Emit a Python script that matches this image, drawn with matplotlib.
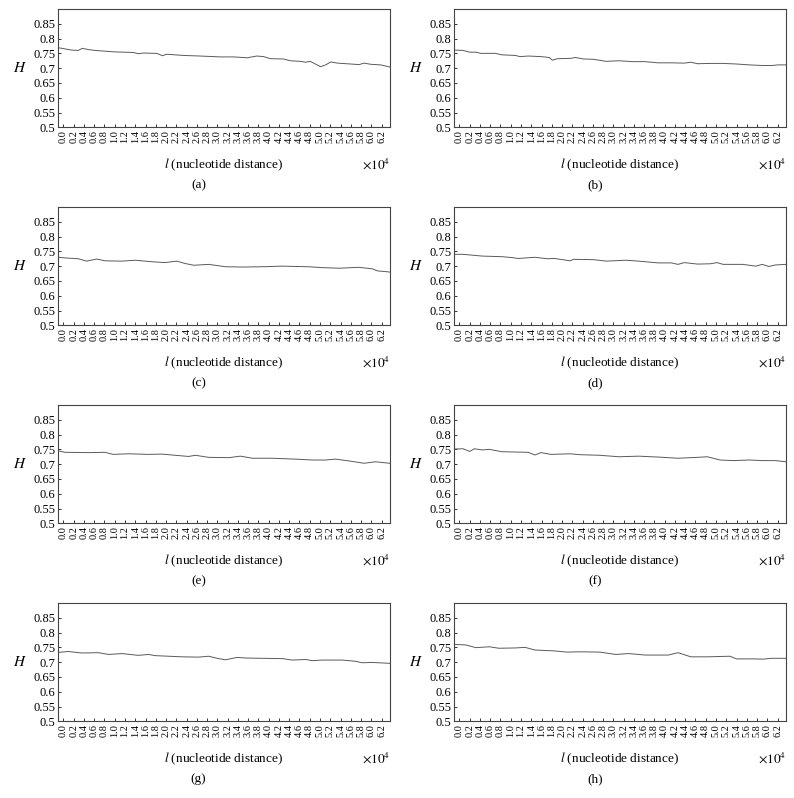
import numpy as np
import matplotlib.pyplot as plt

plt.rcParams['font.family'] = 'Liberation Serif'
plt.rcParams['mathtext.fontset'] = 'stix'

# panel data: nucleotide distance (x10^4) and H
xa = [-0.1, 0.0, 0.16, 0.29, 0.37, 0.48, 0.61, 0.84, 1.0, 1.36, 1.46, 1.56, 1.82, 1.93,
      2.01, 2.34, 2.66, 3.06, 3.32, 3.58, 3.77, 3.90, 4.03, 4.29, 4.42, 4.62, 4.72, 4.81,
      5.01, 5.11, 5.21, 5.34, 5.60, 5.76, 5.86, 5.99, 6.18, 6.36]
ha = [0.769, 0.766, 0.761, 0.760, 0.767, 0.763, 0.760, 0.757, 0.755, 0.753, 0.749, 0.751,
      0.750, 0.742, 0.747, 0.743, 0.741, 0.738, 0.738, 0.735, 0.741, 0.739, 0.732, 0.731,
      0.725, 0.723, 0.720, 0.723, 0.705, 0.711, 0.721, 0.717, 0.714, 0.712, 0.717, 0.713,
      0.711, 0.704]

xb = [-0.1, 0.07, 0.2, 0.32, 0.42, 0.7, 0.83, 1.09, 1.18, 1.34, 1.59, 1.75, 1.81, 1.91,
      2.16, 2.26, 2.42, 2.61, 2.86, 3.11, 3.37, 3.62, 3.87, 4.13, 4.38, 4.51, 4.64, 4.89,
      5.14, 5.40, 5.65, 5.90, 6.1, 6.2, 6.36]
hb = [0.761, 0.760, 0.754, 0.754, 0.750, 0.750, 0.745, 0.743, 0.739, 0.741, 0.739, 0.736,
      0.727, 0.732, 0.733, 0.736, 0.731, 0.730, 0.723, 0.725, 0.722, 0.722, 0.718, 0.718,
      0.717, 0.720, 0.715, 0.716, 0.716, 0.714, 0.711, 0.709, 0.709, 0.711, 0.711]

xc = [-0.1, 0.1, 0.29, 0.45, 0.65, 0.81, 1.14, 1.40, 1.72, 1.98, 2.21, 2.37, 2.54, 2.83,
      3.16, 3.48, 3.87, 4.26, 4.78, 5.04, 5.37, 5.76, 6.02, 6.12, 6.31, 6.36]
hc = [0.730, 0.727, 0.725, 0.717, 0.724, 0.718, 0.717, 0.720, 0.715, 0.712, 0.717, 0.709,
      0.703, 0.706, 0.698, 0.697, 0.698, 0.700, 0.698, 0.695, 0.693, 0.696, 0.691, 0.684,
      0.681, 0.680]

xd = [-0.1, 0.07, 0.45, 0.83, 1.02, 1.15, 1.47, 1.72, 1.85, 2.16, 2.22, 2.61, 2.86, 3.24,
      3.49, 3.87, 4.13, 4.26, 4.38, 4.64, 4.89, 5.02, 5.14, 5.52, 5.78, 5.90, 6.03, 6.16,
      6.36]
hd = [0.740, 0.740, 0.734, 0.732, 0.729, 0.726, 0.730, 0.725, 0.726, 0.718, 0.723, 0.722,
      0.717, 0.720, 0.717, 0.711, 0.711, 0.706, 0.712, 0.707, 0.708, 0.712, 0.706, 0.706,
      0.700, 0.706, 0.699, 0.704, 0.706]

xe = [-0.1, 0.03, 0.49, 0.81, 0.97, 1.27, 1.66, 1.92, 2.11, 2.44, 2.57, 2.83, 3.22, 3.45,
      3.68, 4.07, 4.52, 4.85, 5.11, 5.30, 5.56, 5.86, 6.08, 6.36]
he = [0.745, 0.740, 0.739, 0.740, 0.733, 0.735, 0.733, 0.734, 0.731, 0.726, 0.730, 0.723,
      0.722, 0.727, 0.720, 0.720, 0.717, 0.714, 0.714, 0.717, 0.711, 0.703, 0.708, 0.703]

xf = [-0.1, 0.07, 0.2, 0.29, 0.45, 0.58, 0.83, 1.09, 1.34, 1.47, 1.59, 1.78, 2.16, 2.35,
      2.73, 3.11, 3.49, 3.87, 4.26, 4.64, 4.83, 5.08, 5.33, 5.65, 5.90, 6.16, 6.36]
hf = [0.751, 0.752, 0.743, 0.752, 0.748, 0.750, 0.742, 0.741, 0.740, 0.731, 0.739, 0.733,
      0.735, 0.732, 0.730, 0.725, 0.727, 0.724, 0.720, 0.723, 0.725, 0.714, 0.712, 0.714,
      0.712, 0.712, 0.708]

xg = [-0.1, 0.09, 0.36, 0.68, 0.88, 1.14, 1.46, 1.66, 1.79, 2.05, 2.31, 2.63, 2.83, 3.02,
      3.16, 3.38, 3.55, 3.87, 4.26, 4.46, 4.72, 4.85, 5.04, 5.43, 5.69, 5.82, 6.02, 6.36]
hg = [0.733, 0.736, 0.731, 0.732, 0.726, 0.729, 0.723, 0.726, 0.722, 0.720, 0.718, 0.717,
      0.720, 0.712, 0.708, 0.716, 0.714, 0.713, 0.712, 0.707, 0.709, 0.705, 0.707, 0.707,
      0.703, 0.698, 0.699, 0.696]

xh = [-0.1, 0.13, 0.32, 0.58, 0.77, 1.09, 1.28, 1.47, 1.85, 2.10, 2.35, 2.73, 3.05, 3.30,
      3.62, 4.07, 4.26, 4.51, 4.83, 5.27, 5.40, 5.78, 5.90, 6.09, 6.36]
hh = [0.760, 0.758, 0.749, 0.752, 0.747, 0.748, 0.750, 0.741, 0.738, 0.734, 0.735, 0.734,
      0.726, 0.729, 0.724, 0.724, 0.732, 0.718, 0.718, 0.720, 0.711, 0.711, 0.710, 0.713,
      0.713]

panels = [(xa, ha), (xb, hb), (xc, hc), (xd, hd), (xe, he), (xf, hf), (xg, hg), (xh, hh)]
letters = ['a', 'b', 'c', 'd', 'e', 'f', 'g', 'h']

xticks = np.arange(0, 6.21, 0.2)
yticks = [0.5, 0.55, 0.6, 0.65, 0.7, 0.75, 0.8, 0.85]
ytick_labels = ['0.5', '0.55', '0.6', '0.65', '0.7', '0.75', '0.8', '0.85']

W, H = 794, 798
fig = plt.figure(figsize=(W / 100, H / 100), dpi=100)

lefts = [58.3, 454.3]
width = 331.5
height = 118.3

for i, (x, h) in enumerate(panels):
    row, col = divmod(i, 2)
    top = 9 + 198 * row
    ax = fig.add_axes([lefts[col] / W, 1 - (top + height) / H, width / W, height / H])
    ax.plot(x, h, color='#5a5a5a', lw=0.7)
    ax.set_xlim(-0.1, 6.36)
    ax.set_ylim(0.5, 0.9)
    ax.set_xticks(xticks)
    ax.set_xticklabels(['%.1f' % t for t in xticks], rotation=90, fontsize=7.4)
    ax.set_yticks(yticks)
    ax.set_yticklabels(ytick_labels, fontsize=9)
    ax.tick_params(direction='in', length=2.5, width=0.7, pad=2, color='#333333')
    for s in ax.spines.values():
        s.set_linewidth(0.8)
        s.set_color('#444444')
    ax.set_ylabel('$H$', rotation=0, fontsize=11, labelpad=10, va='center')
    ax.text(0.5, -0.35, r'$l$ (nucleotide distance)', transform=ax.transAxes,
            ha='center', va='baseline', fontsize=9.5)
    ax.text(1.0, -0.35, r'$\times10^4$', transform=ax.transAxes,
            ha='right', va='baseline', fontsize=9.5)
    cx = 0.25 + 0.5 * col
    fig.text(cx, 1 - (185 + 198 * row) / H, '(%s)' % letters[i],
             ha='center', va='center', fontsize=9.5)

fig.savefig('out.png', dpi=100)
